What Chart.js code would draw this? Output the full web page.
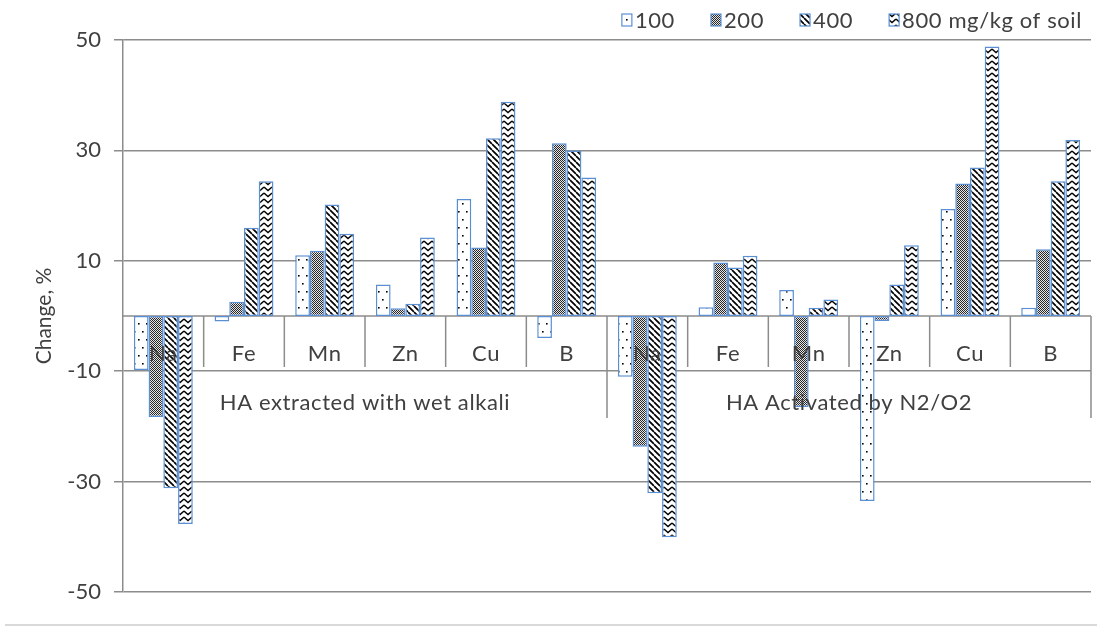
<!DOCTYPE html>
<html><head><meta charset="utf-8">
<script src="https://cdn.jsdelivr.net/npm/chart.js@4.4.1/dist/chart.umd.min.js"></script>
<style>html,body{margin:0;padding:0;background:#fff;overflow:hidden}#wrap{width:1097px;height:628px;position:relative}</style>
</head><body><div id="wrap"><canvas id="c" width="1097" height="628"></canvas></div>
<script>
// ---- data ----
const elements = ['Na', 'Fe', 'Mn', 'Zn', 'Cu', 'B'];
const groups = ['HA extracted with wet alkali', 'HA Activated by N2/O2'];
const categories = ['Na', 'Fe', 'Mn', 'Zn', 'Cu', 'B', 'Na', 'Fe', 'Mn', 'Zn', 'Cu', 'B'];
const seriesLabels = ['100', '200', '400', '800 mg/kg of soil'];
const s100 = [-9.8, -1.0, 11.0, 5.7, 21.2, -4.0, -11.0, 1.6, 4.7, -33.5, 19.4, 1.5];
const s200 = [-18.3, 2.6, 11.8, 1.4, 12.4, 31.3, -23.7, 9.7, -16.5, -0.9, 24.0, 12.1];
const s400 = [-31.2, 16.0, 20.2, 2.2, 32.2, 30.0, -32.1, 8.8, 1.5, 5.7, 26.9, 24.4];
const s800 = [-37.7, 24.4, 14.9, 14.2, 38.8, 25.1, -40.1, 10.9, 3.0, 12.8, 48.8, 31.9];
const yMin = -50, yMax = 50, yStep = 20;
const yTitle = 'Change, %';

// ---- styles ----
const FONT = 'Lato';
const FSIZE = 22;
const TEXT = '#404040';
const GRID = '#8c8c8c';
const BORDER = '#5b8fd4';

function makePattern(kind) {
  const c = document.createElement('canvas');
  let w = 8, h = 8;
  if (kind === 'dots') { w = 8; h = 16; }
  if (kind === 'checker') { w = 2; h = 2; }
  if (kind === 'diag') { w = 6; h = 6; }
  if (kind === 'zig') { w = 8; h = 6; }
  c.width = w; c.height = h;
  const g = c.getContext('2d');
  g.fillStyle = '#fff'; g.fillRect(0, 0, w, h);
  g.fillStyle = '#000'; g.strokeStyle = '#000';
  if (kind === 'dots') {
    g.fillRect(2, 3, 1.6, 1.6); g.fillRect(6, 11, 1.6, 1.6);
  } else if (kind === 'checker') {
    g.fillStyle = '#262626'; g.fillRect(0, 0, 1, 1); g.fillRect(1, 1, 1, 1);
    g.fillStyle = '#e6e6e6'; g.fillRect(1, 0, 1, 1); g.fillRect(0, 1, 1, 1);
  } else if (kind === 'diag') {
    g.lineWidth = 1.7;
    g.beginPath();
    for (const x0 of [-6, 0, 6]) { g.moveTo(x0, 0); g.lineTo(x0 + 6, 6); }
    g.stroke();
  } else if (kind === 'zig') {
    g.lineWidth = 1.4;
    g.beginPath(); g.moveTo(0, 1); g.lineTo(4, 4.5); g.lineTo(8, 1); g.stroke();
  }
  return g.createPattern(c, 'repeat');
}
const fills = [makePattern('dots'), makePattern('checker'), makePattern('diag'), makePattern('zig')];
const seriesData = [s100, s200, s400, s800];

const datasets = seriesData.map((d, i) => ({
  label: seriesLabels[i],
  data: d,
  backgroundColor: fills[i],
  borderColor: BORDER,
  borderWidth: 1.5,
  borderSkipped: false,
  categoryPercentage: 0.73,
  barPercentage: 1.0
}));

const catAxisPlugin = {
  id: 'catAxis',
  beforeInit(chart) { try { chart.ctx.letterSpacing = '0.6px'; } catch (e) {} },
  beforeDatasetsDraw(chart) {
    const { ctx, chartArea: a, scales: { x, y } } = chart;
    const y0 = y.getPixelForValue(0);
    const n = categories.length;
    ctx.save();
    ctx.strokeStyle = GRID; ctx.lineWidth = 1.5;
    ctx.beginPath();
    ctx.moveTo(a.left, y0); ctx.lineTo(a.right, y0);
    for (let i = 1; i <= n; i++) {
      const xx = i < n ? (x.getPixelForValue(i - 1) + x.getPixelForValue(i)) / 2 : a.right;
      const long = i % elements.length === 0;
      ctx.moveTo(xx, y0); ctx.lineTo(xx, y0 + (long ? 102 : 51));
    }
    ctx.stroke();
    ctx.restore();
  },
  afterDatasetsDraw(chart) {
    const { ctx, scales: { x, y } } = chart;
    const y0 = y.getPixelForValue(0);
    ctx.save();
    ctx.letterSpacing = '0.6px';
    ctx.fillStyle = TEXT;
    ctx.font = FSIZE + 'px ' + FONT;
    ctx.textAlign = 'center'; ctx.textBaseline = 'middle';
    categories.forEach((c, i) => ctx.fillText(c, x.getPixelForValue(i), y0 + 38));
    const per = elements.length;
    groups.forEach((g, gi) => {
      const x1 = x.getPixelForValue(gi * per), x2 = x.getPixelForValue(gi * per + per - 1);
      ctx.fillText(g, (x1 + x2) / 2, y0 + 87);
    });
    ctx.restore();
  },
  afterDraw(chart) {
    const { ctx } = chart;
    ctx.save();
    ctx.letterSpacing = '0.6px';
    ctx.font = FSIZE + 'px ' + FONT;
    ctx.textBaseline = 'middle'; ctx.textAlign = 'left';
    const boxW = 10, boxH = 12, gapT = 3, gapI = 36;
    const items = chart.data.datasets.map(d => ({ t: d.label, f: d.backgroundColor, b: d.borderColor, w: ctx.measureText(d.label).width }));
    const total = items.reduce((s, it) => s + boxW + gapT + it.w, 0) + gapI * (items.length - 1);
    let xx = 1082 - total;
    const ly = 20;
    items.forEach(it => {
      ctx.fillStyle = it.f; ctx.fillRect(xx, ly - boxH / 2, boxW, boxH);
      ctx.strokeStyle = it.b; ctx.lineWidth = 1.2; ctx.strokeRect(xx, ly - boxH / 2, boxW, boxH);
      ctx.fillStyle = TEXT; ctx.fillText(it.t, xx + boxW + gapT, ly + 1);
      xx += boxW + gapT + it.w + gapI;
    });
    ctx.strokeStyle = '#d9d9d9'; ctx.lineWidth = 2;
    ctx.beginPath(); ctx.moveTo(5, 625); ctx.lineTo(1097, 625); ctx.stroke();
    ctx.restore();
  }
};

new Chart(document.getElementById('c'), {
  type: 'bar',
  data: { labels: categories, datasets },
  options: {
    responsive: false,
    animation: false,
    devicePixelRatio: 1,
    layout: { padding: { top: 40, right: 6, bottom: 36, left: 0 } },
    plugins: { legend: { display: false }, tooltip: { enabled: false } },
    scales: {
      x: { display: false },
      y: {
        min: yMin, max: yMax,
        afterFit(s) { s.width = 123; },
        ticks: { stepSize: yStep, color: TEXT, font: { family: FONT, size: FSIZE }, padding: 13 },
        grid: { color: GRID, lineWidth: 1.5, tickLength: 9, tickColor: GRID, drawTicks: true },
        border: { display: true, color: GRID, width: 1.5 },
        title: { display: true, text: yTitle, color: TEXT, font: { family: FONT, size: 21 }, padding: { top: 32, bottom: 0 } }
      }
    }
  },
  plugins: [catAxisPlugin]
});
</script></body></html>
